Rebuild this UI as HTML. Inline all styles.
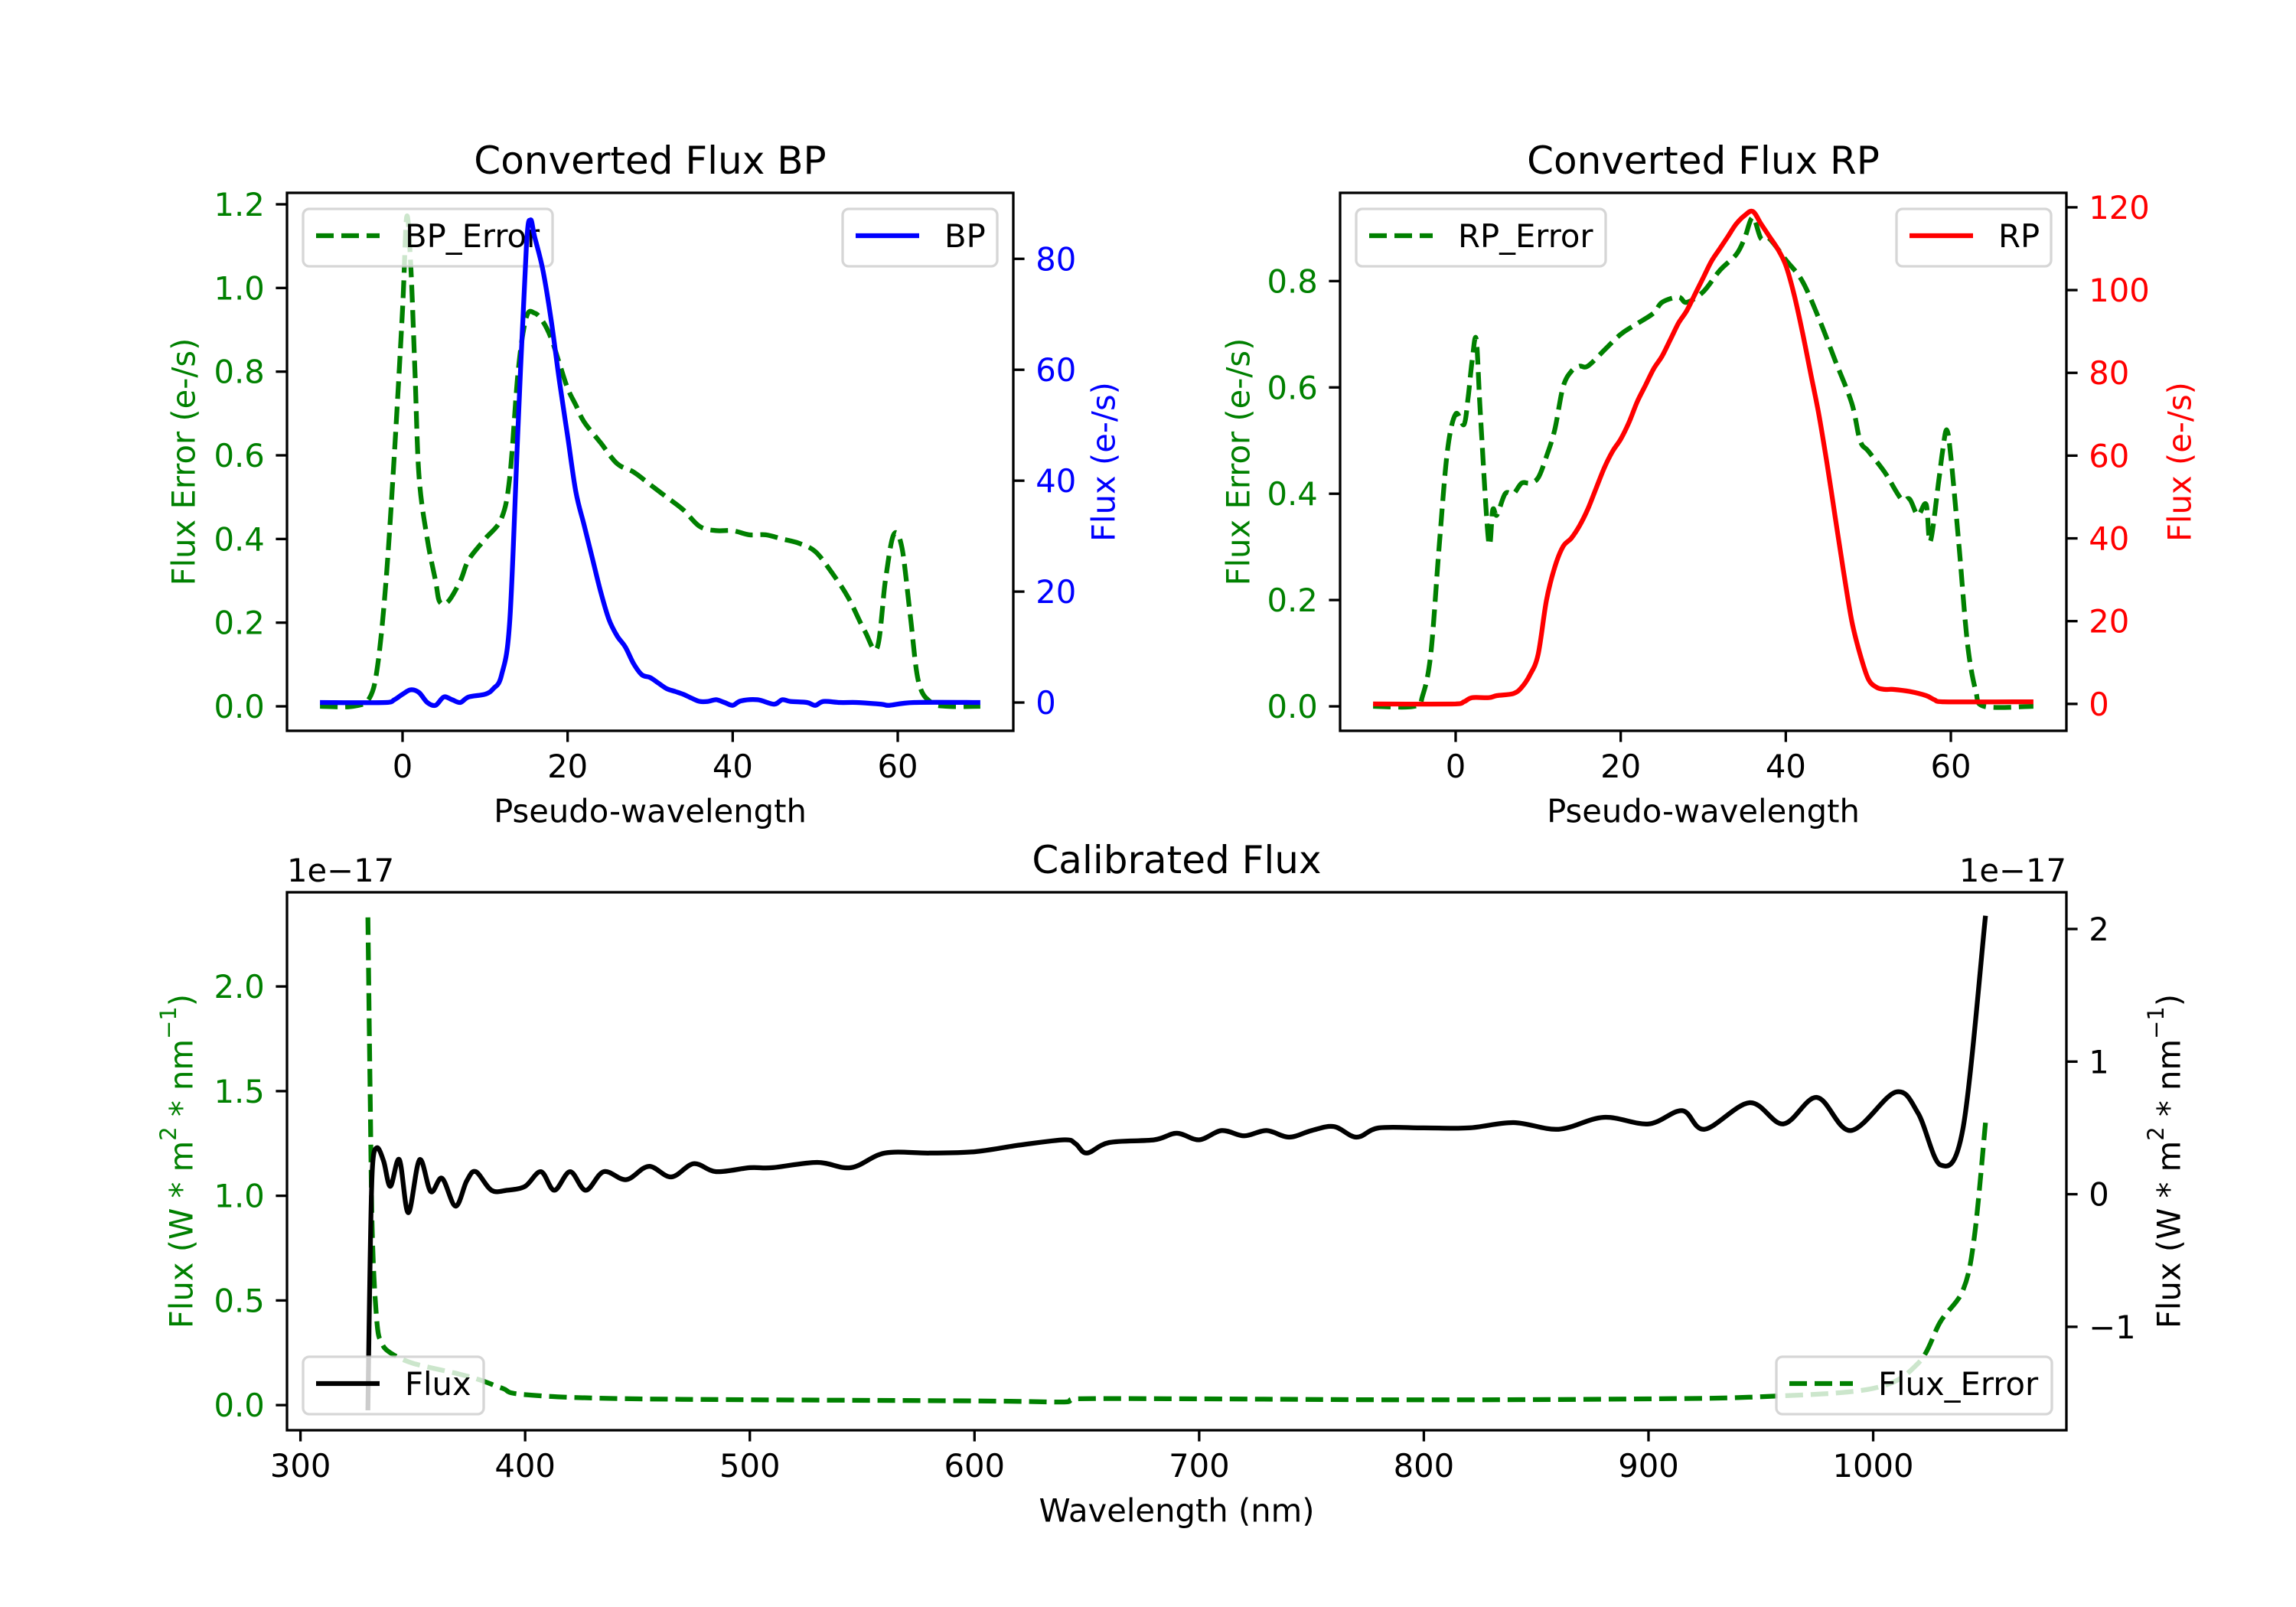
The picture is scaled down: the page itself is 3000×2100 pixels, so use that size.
<!DOCTYPE html>
<html><head><meta charset="utf-8"><style>
html,body{margin:0;padding:0;background:#fff}
svg{display:block}
text{font-family:"DejaVu Sans","Liberation Sans",sans-serif}
</style></head><body>
<svg id="fig" width="3000" height="2100" viewBox="0 0 3000 2100" xmlns="http://www.w3.org/2000/svg"></svg>
<script>
// ---- data ----
const bpErrX = [-10,-6,-4,-3,-2,-1,0,0.5,1,1.5,2,3,4,4.5,5.5,7,8,10,12,13,14,15,16,17,18,19,20,21,22,24,26,28,30,32,34,36,38,40,42,44,46,48,50,52,54,56,57.5,58.5,59.5,60.5,61.5,62.5,64,66,70];
const bpErrY = [0,0,0.02,0.1,0.3,0.6,0.95,1.17,1.05,0.8,0.55,0.4,0.3,0.25,0.25,0.3,0.35,0.4,0.45,0.55,0.8,0.93,0.94,0.92,0.88,0.82,0.76,0.72,0.68,0.63,0.58,0.56,0.53,0.5,0.47,0.43,0.42,0.42,0.41,0.41,0.40,0.39,0.37,0.32,0.26,0.18,0.14,0.3,0.41,0.38,0.22,0.06,0.01,0,0];
const bpX = [-10,-2,-1,0,1,2,3,4,5,6,7,8,10,11,12,13,14,15,15.5,16,17,18,19,20,21,22,23,24,25,26,27,28,29,30,31,32,33,34,35,36,37,38,39,40,41,43,45,46,47,49,50,51,53,55,58,59,62,70];
const bpY = [0,0,0.5,1.5,2.3,1.8,0,-0.5,1,0.5,0,1,1.5,2.5,5,15,50,82,87,84,78,69,58,48,38,32,26,20,15,12,10,7,5,4.5,3.5,2.5,2,1.5,0.8,0.2,0.2,0.5,0,-0.5,0.3,0.5,-0.3,0.5,0.2,0,-0.5,0.2,0,0,-0.3,-0.5,0,0];
const rpErrX = [-10,-5,-4,-3,-2,-1,0,1,1.5,2,2.5,3,4,4.5,5,6,7,8,9,10,11,12,13,14,15,16,18,20,22,24,25,27,28,30,32,34,35,36,37,38,40,42,44,46,48,49,50,52,54,55,56,57,57.5,58.5,59,59.5,60,61,62,63,64,70];
const rpErrY = [0,0,0.02,0.1,0.3,0.48,0.55,0.53,0.58,0.65,0.69,0.55,0.31,0.37,0.36,0.4,0.4,0.42,0.42,0.43,0.47,0.52,0.6,0.63,0.64,0.64,0.67,0.7,0.72,0.74,0.76,0.77,0.76,0.78,0.82,0.85,0.88,0.92,0.88,0.88,0.84,0.80,0.73,0.65,0.57,0.5,0.48,0.44,0.39,0.39,0.36,0.38,0.31,0.42,0.48,0.52,0.47,0.3,0.12,0.03,0,0];
const rpX = [-10,0,1,2,4,5,7,8,9,10,11,12,13,14,15,16,17,18,19,20,21,22,23,24,25,26,27,28,29,30,31,32,33,34,35,36,37,38,39,40,41,42,43,44,45,46,47,48,49,50,51,52,53,55,57,58,59,70];
const rpY = [0,0,0.5,1.5,1.5,2,2.5,4,7,12,25,33,38,40,43,47,52,57,61,64,68,73,77,81,84,88,92,95,99,103,107,110,113,116,118,119,116,113,110,106,99,90,80,70,58,45,32,20,12,6,4,3.5,3.5,3,2,1,0.5,0.5];
const calX = [330,331,332,334,337,340,344,348,353,358,363,369,374,378,385,392,400,407,413,420,427,435,445,455,465,475,485,500,510,530,545,560,580,600,620,640,645,650,660,680,690,700,710,720,730,740,750,760,770,780,800,820,840,860,880,900,915,925,945,960,975,990,1010,1020,1030,1040,1050];
const calY = [-1.63,-0.5,0.2,0.35,0.25,0.06,0.26,-0.14,0.26,0.02,0.12,-0.09,0.1,0.17,0.03,0.03,0.06,0.17,0.03,0.17,0.03,0.17,0.11,0.21,0.13,0.23,0.17,0.2,0.2,0.24,0.2,0.31,0.31,0.32,0.37,0.41,0.38,0.31,0.39,0.41,0.46,0.41,0.48,0.44,0.48,0.43,0.48,0.51,0.43,0.5,0.5,0.5,0.54,0.49,0.58,0.53,0.63,0.49,0.69,0.53,0.73,0.48,0.77,0.61,0.22,0.5,2.1];
const calErrX = [330,331,332,334,336,340,350,370,380,390,400,450,600,640,645,700,800,900,950,1000,1020,1030,1040,1045,1050];
const calErrY = [2.33,1.5,0.8,0.4,0.3,0.25,0.2,0.15,0.12,0.08,0.05,0.03,0.02,0.015,0.03,0.03,0.025,0.03,0.04,0.08,0.2,0.4,0.55,0.8,1.35];
const pseudoTicks = [0,20,40,60];
const bpErrTicks = [0,0.2,0.4,0.6,0.8,1.0,1.2];
const bpTicks = [0,20,40,60,80];
const rpErrTicks = [0,0.2,0.4,0.6,0.8];
const rpTicks = [0,20,40,60,80,100,120];
const wlTicks = [300,400,500,600,700,800,900,1000];
const calErrTicks = [0,0.5,1.0,1.5,2.0];
const calTicks = [-1,0,1,2];

// ---- drawing ----
const NS='http://www.w3.org/2000/svg';
const svg=document.getElementById('fig');
function el(tag,attrs,parent,txt){const e=document.createElementNS(NS,tag);for(const k in attrs)e.setAttribute(k,attrs[k]);if(txt!==undefined)e.textContent=txt;(parent||svg).appendChild(e);return e;}
function scale(d0,d1,p0,p1){return v=>p0+(v-d0)/(d1-d0)*(p1-p0);}
const FS=41.7, TL=14.6, LW=3.3;
function fmt(v,dec){return (v<0?'\u2212':'')+Math.abs(v).toFixed(dec);}
function smoothPath(P){
  // monotone-x Catmull-Rom
  let d='M'+P[0][0].toFixed(1)+','+P[0][1].toFixed(1);
  for(let i=0;i<P.length-1;i++){
    const p0=P[Math.max(0,i-1)],p1=P[i],p2=P[i+1],p3=P[Math.min(P.length-1,i+2)];
    const t=1/6;
    let c1x=p1[0]+(p2[0]-p0[0])*t, c1y=p1[1]+(p2[1]-p0[1])*t;
    let c2x=p2[0]-(p3[0]-p1[0])*t, c2y=p2[1]-(p3[1]-p1[1])*t;
    c1x=Math.min(Math.max(c1x,p1[0]),p2[0]); c2x=Math.min(Math.max(c2x,p1[0]),p2[0]);
    d+=` C${c1x.toFixed(1)},${c1y.toFixed(1)} ${c2x.toFixed(1)},${c2y.toFixed(1)} ${p2[0].toFixed(1)},${p2[1].toFixed(1)}`;
  }
  return d;
}

function panel(o){
  const g=el('g',{},svg);
  
  
  const sx=scale(o.xd[0],o.xd[1],o.L,o.R);
  const syL=scale(o.yl[0],o.yl[1],o.B,o.T);
  const syR=scale(o.yr[0],o.yr[1],o.B,o.T);
  const t=el('text',{x:(o.L+o.R)/2,y:o.T-25,'font-size':50,'text-anchor':'middle'},g,o.title);
  
  o.xt.forEach(v=>{const x=sx(v);
    const tk=el('line',{x1:x,x2:x,y1:o.B,y2:o.B+TL,stroke:'#000','stroke-width':LW},g);
    
    const tx=el('text',{x:x,y:o.B+TL+14.6+FS*0.76,'font-size':FS,'text-anchor':'middle'},g,fmt(v,0));
    });
  const xl=el('text',{x:(o.L+o.R)/2,y:o.B+TL+14.6+FS+16.7+FS*0.76,'font-size':FS,'text-anchor':'middle'},g,o.xlabel);
  
  o.ylt.forEach(v=>{const y=syL(v);
    const tk=el('line',{x1:o.L-TL,x2:o.L,y1:y,y2:y,stroke:'#000','stroke-width':LW},g);
    
    const tx=el('text',{x:o.L-TL-14.6,y:y+FS*0.36,'font-size':FS,'text-anchor':'end',fill:o.lc},g,fmt(v,o.ldec));
    });
  o.yrt.forEach(v=>{const y=syR(v);
    const tk=el('line',{x1:o.R,x2:o.R+TL,y1:y,y2:y,stroke:'#000','stroke-width':LW},g);
    
    const tx=el('text',{x:o.R+TL+14.6,y:y+FS*0.36,'font-size':FS,'text-anchor':'start',fill:o.rc},g,fmt(v,0));
    });
  const yl=el('text',{transform:`translate(${o.ylx},${(o.T+o.B)/2}) rotate(-90)`,'font-size':FS,'text-anchor':'middle',fill:o.lc,'dominant-baseline':'central'},g);
  
  yl.innerHTML=o.ylabelL;
  const yr=el('text',{transform:`translate(${o.yrx},${(o.T+o.B)/2}) rotate(-90)`,'font-size':FS,'text-anchor':'middle',fill:o.rc,'dominant-baseline':'central'},g);
  
  yr.innerHTML=o.ylabelR;
  if(o.offset){
    const a=el('text',{x:o.L,y:o.T-14,'font-size':FS,'text-anchor':'start'},g,'1e\u221217');
    
    const b=el('text',{x:o.R,y:o.T-14,'font-size':FS,'text-anchor':'end'},g,'1e\u221217');
    
  }
  const cid='clip'+o.name;
  const cp=el('clipPath',{id:cid},g);el('rect',{x:o.L,y:o.T,width:o.R-o.L,height:o.B-o.T},cp);
  const pts=(xs,ys,sy)=>xs.map((x,i)=>[sx(x),sy(ys[i])]);
  const s1=el('path',{d:smoothPath(pts(o.s1x,o.s1y,syL)),fill:'none',stroke:o.s1c,'stroke-width':6.25,'stroke-dasharray':o.s1dash?'23,10':'none','stroke-linejoin':'round','clip-path':`url(#${cid})`},g);
  
  legend(g,o.lg1);
  const s2=el('path',{d:smoothPath(pts(o.s2x,o.s2y,syR)),fill:'none',stroke:o.s2c,'stroke-width':6.25,'stroke-dasharray':o.s2dash?'23,10':'none','stroke-linejoin':'round','clip-path':`url(#${cid})`},g);
  
  legend(g,o.lg2);
  const fr=el('rect',{x:o.L,y:o.T,width:o.R-o.L,height:o.B-o.T,fill:'none',stroke:'#000','stroke-width':LW},g);
  
}
function legend(g,l){
  const lg=el('g',{},g);
  
  el('rect',{x:l.x,y:l.y,width:l.w,height:75,rx:8,fill:'#fff','fill-opacity':0.8,stroke:'#ccc','stroke-opacity':0.8,'stroke-width':3.3},lg);
  const cy=l.y+35;
  const ln=el('line',{x1:l.x+17,x2:l.x+100,y1:cy,y2:cy,stroke:l.c,'stroke-width':6.25,'stroke-dasharray':l.dash?'23,10':'none'},lg);
  
  const t=el('text',{x:l.x+133,y:cy+15,'font-size':FS},lg,l.t);
  
}
const G='#008000';
panel({name:'bp-panel',L:375,R:1324,T:252,B:955,xd:[-14,74],yl:[-0.0585,1.2274],yr:[-5.1,91.9],
  title:'Converted Flux BP',xlabel:'Pseudo-wavelength',xt:pseudoTicks,ylt:bpErrTicks,ldec:1,yrt:bpTicks,lc:G,rc:'#0000ff',
  ylx:240,yrx:1442,ylabelL:'Flux Error (e-/s)',ylabelR:'Flux (e-/s)',
  s1x:bpErrX,s1y:bpErrY,s1c:G,s1dash:true,s1name:'bp-error-line',s2x:bpX,s2y:bpY,s2c:'#0000ff',s2dash:false,s2name:'bp-flux-line',
  lg1:{x:396,y:273,w:326,t:'BP_Error',c:G,dash:true},lg2:{x:1101,y:273,w:202,t:'BP',c:'#0000ff',dash:false}});
panel({name:'rp-panel',L:1751,R:2700,T:252,B:955,xd:[-14,74],yl:[-0.046,0.966],yr:[-6.5,123.5],
  title:'Converted Flux RP',xlabel:'Pseudo-wavelength',xt:pseudoTicks,ylt:rpErrTicks,ldec:1,yrt:rpTicks,lc:G,rc:'#ff0000',
  ylx:1618,yrx:2848,ylabelL:'Flux Error (e-/s)',ylabelR:'Flux (e-/s)',
  s1x:rpErrX,s1y:rpErrY,s1c:G,s1dash:true,s1name:'rp-error-line',s2x:rpX,s2y:rpY,s2c:'#ff0000',s2dash:false,s2name:'rp-flux-line',
  lg1:{x:1772,y:273,w:326,t:'RP_Error',c:G,dash:true},lg2:{x:2478,y:273,w:202,t:'RP',c:'#ff0000',dash:false}});
panel({name:'calibrated-panel',L:375,R:2700,T:1166,B:1869,xd:[294,1086],yl:[-0.12,2.45],yr:[-1.78,2.277],offset:true,
  title:'Calibrated Flux',xlabel:'Wavelength (nm)',xt:wlTicks,ylt:calErrTicks,ldec:1,yrt:calTicks,lc:G,rc:'#000',
  ylx:237,yrx:2834,ylabelL:'Flux (W * m<tspan baseline-shift="super" font-size="29">2</tspan> * nm<tspan baseline-shift="super" font-size="29">\u22121</tspan>)',
  ylabelR:'Flux (W * m<tspan baseline-shift="super" font-size="29">2</tspan> * nm<tspan baseline-shift="super" font-size="29">\u22121</tspan>)',
  s1x:calErrX,s1y:calErrY,s1c:G,s1dash:true,s1name:'flux-error-line',s2x:calX,s2y:calY,s2c:'#000',s2dash:false,s2name:'flux-line',
  lg1:{x:2321,y:1773,w:360,t:'Flux_Error',c:G,dash:true},lg2:{x:396,y:1773,w:236,t:'Flux',c:'#000',dash:false}});
</script>
</body></html>
